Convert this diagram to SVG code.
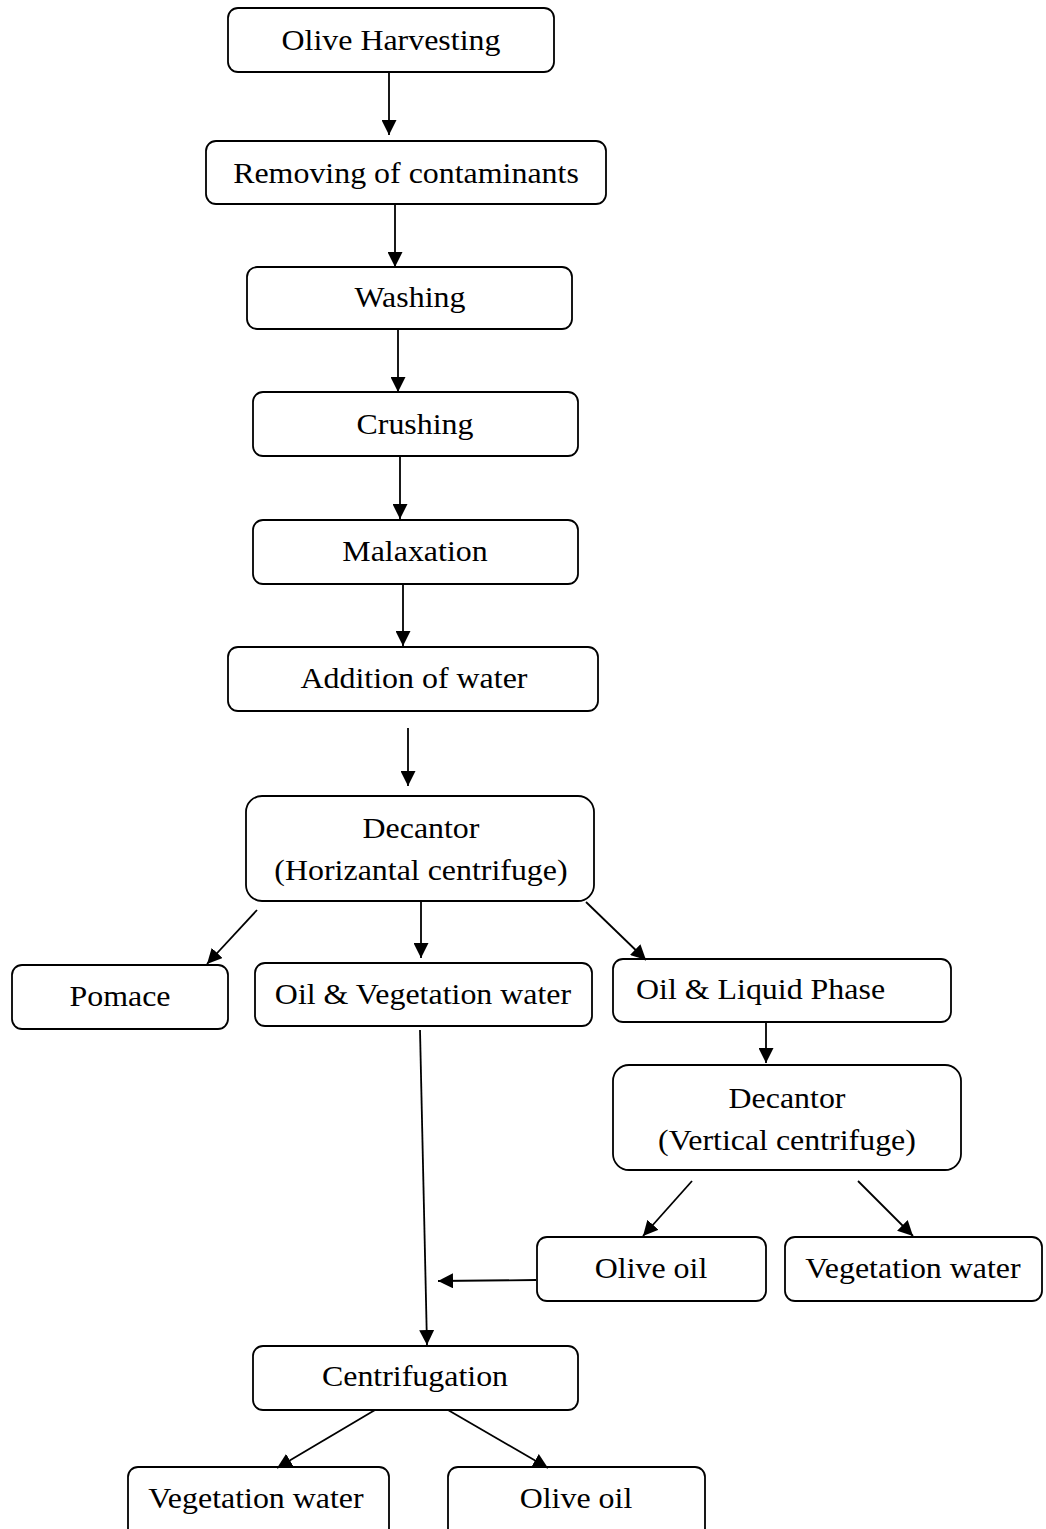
<svg xmlns="http://www.w3.org/2000/svg" width="1046" height="1529" viewBox="0 0 1046 1529">
<style>
.b{fill:#fff;stroke:#000;stroke-width:1.8}
.t{font-family:"Liberation Serif",serif;font-size:28.5px;fill:#000;text-anchor:middle;transform-box:fill-box;transform-origin:center;transform:scaleX(1.12)}
.l{transform-origin:left center}
.c line{stroke:#000;stroke-width:1.8}
</style>
<defs>
<marker id="a2" viewBox="0 0 10 10" refX="10" refY="5" markerWidth="15" markerHeight="15" markerUnits="userSpaceOnUse" orient="auto">
<path d="M0,0 L10,5 L0,10 z" fill="#000"/>
</marker>
</defs>
<rect width="1046" height="1529" fill="#fff"/>
<g id="n1"><rect class="b" x="228" y="8" width="326" height="64" rx="10"/><text class="t" x="391" y="50">Olive Harvesting</text></g>
<g id="n2"><rect class="b" x="206" y="141" width="400" height="63" rx="10"/><text class="t" x="406" y="183">Removing of contaminants</text></g>
<g id="n3"><rect class="b" x="247" y="267" width="325" height="62" rx="10"/><text class="t" x="410" y="307">Washing</text></g>
<g id="n4"><rect class="b" x="253" y="392" width="325" height="64" rx="10"/><text class="t" x="415" y="434">Crushing</text></g>
<g id="n5"><rect class="b" x="253" y="520" width="325" height="64" rx="10"/><text class="t" x="415" y="561">Malaxation</text></g>
<g id="n6"><rect class="b" x="228" y="647" width="370" height="64" rx="10"/><text class="t" x="414" y="688">Addition of water</text></g>
<g id="n7"><rect class="b" x="246" y="796" width="348" height="105" rx="16"/><text class="t" x="421" y="838">Decantor</text><text class="t" x="421" y="880">(Horizantal centrifuge)</text></g>
<g id="n8"><rect class="b" x="12" y="965" width="216" height="64" rx="10"/><text class="t" x="120" y="1006">Pomace</text></g>
<g id="n9"><rect class="b" x="255" y="963" width="337" height="63" rx="10"/><text class="t" x="423" y="1004">Oil &amp; Vegetation water</text></g>
<g id="n10"><rect class="b" x="613" y="959" width="338" height="63" rx="10"/><text class="t l" x="636" y="999" style="text-anchor:start">Oil &amp; Liquid Phase</text></g>
<g id="n11"><rect class="b" x="613" y="1065" width="348" height="105" rx="16"/><text class="t" x="787" y="1108">Decantor</text><text class="t" x="787" y="1150">(Vertical centrifuge)</text></g>
<g id="n12"><rect class="b" x="537" y="1237" width="229" height="64" rx="10"/><text class="t" x="651" y="1278">Olive oil</text></g>
<g id="n13"><rect class="b" x="785" y="1237" width="257" height="64" rx="10"/><text class="t" x="913" y="1278">Vegetation water</text></g>
<g id="n14"><rect class="b" x="253" y="1346" width="325" height="64" rx="10"/><text class="t" x="415" y="1386">Centrifugation</text></g>
<g id="n15"><rect class="b" x="128" y="1467" width="261" height="80" rx="10"/><text class="t" x="256" y="1508">Vegetation water</text></g>
<g id="n16"><rect class="b" x="448" y="1467" width="257" height="80" rx="10"/><text class="t" x="576" y="1508">Olive oil</text></g>
<g id="connectors" class="c">
<line x1="389" y1="72" x2="389" y2="135" marker-end="url(#a2)"/>
<line x1="395" y1="204" x2="395" y2="267" marker-end="url(#a2)"/>
<line x1="398" y1="329" x2="398" y2="392" marker-end="url(#a2)"/>
<line x1="400" y1="456" x2="400" y2="519" marker-end="url(#a2)"/>
<line x1="403" y1="584" x2="403" y2="646" marker-end="url(#a2)"/>
<line x1="408" y1="728" x2="408" y2="786" marker-end="url(#a2)"/>
<line x1="257" y1="910" x2="207" y2="964" marker-end="url(#a2)"/>
<line x1="421" y1="902" x2="421" y2="958" marker-end="url(#a2)"/>
<line x1="586" y1="902" x2="646" y2="960" marker-end="url(#a2)"/>
<line x1="766" y1="1022" x2="766" y2="1063" marker-end="url(#a2)"/>
<line x1="692" y1="1181" x2="643" y2="1236" marker-end="url(#a2)"/>
<line x1="858" y1="1181" x2="913" y2="1236" marker-end="url(#a2)"/>
<line x1="536" y1="1280" x2="438" y2="1281" marker-end="url(#a2)"/>
<line x1="420" y1="1030" x2="427" y2="1345" marker-end="url(#a2)"/>
<line x1="375" y1="1410" x2="277" y2="1468" marker-end="url(#a2)"/>
<line x1="448" y1="1410" x2="548" y2="1468" marker-end="url(#a2)"/>
</g>
</svg>
